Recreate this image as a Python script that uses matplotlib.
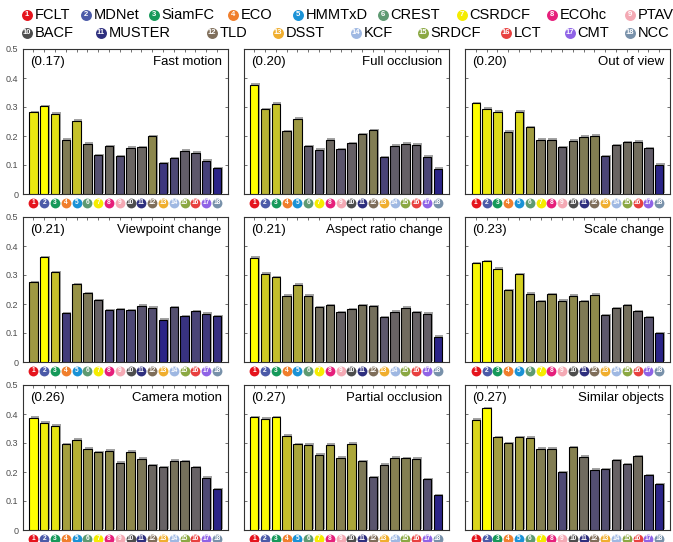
import matplotlib
matplotlib.use("Agg")
import matplotlib.pyplot as plt
import matplotlib.patheffects as pe
import matplotlib.transforms as mtransforms
from matplotlib.colors import LinearSegmentedColormap
import numpy as np

plt.rcParams['font.family'] = ['Liberation Sans', 'DejaVu Sans']

trackers = ['FCLT', 'MDNet', 'SiamFC', 'ECO', 'HMMTxD', 'CREST', 'CSRDCF', 'ECOhc', 'PTAV',
            'BACF', 'MUSTER', 'TLD', 'DSST', 'KCF', 'SRDCF', 'LCT', 'CMT', 'NCC']
tracker_colors = ['#e5141d', '#4b5aa8', '#16995a', '#f07f2d', '#1a92d6', '#5e9a72',
                  '#f5ec00', '#e61f7b', '#f4a9b4', '#4d4d4d', '#2e2f7e', '#7f6e5a',
                  '#f0ae2e', '#9fb8e2', '#8ba843', '#e8403f', '#8f63e6', '#7891aa']

attributes = ['Fast motion', 'Full occlusion', 'Out of view',
              'Viewpoint change', 'Aspect ratio change', 'Scale change',
              'Camera motion', 'Partial occlusion', 'Similar objects']
attr_scores = ['(0.17)', '(0.20)', '(0.20)', '(0.21)', '(0.21)', '(0.23)',
               '(0.26)', '(0.27)', '(0.27)']

fast_motion = [0.283, 0.302, 0.277, 0.187, 0.253, 0.173, 0.133, 0.165, 0.131,
               0.160, 0.161, 0.200, 0.107, 0.123, 0.149, 0.143, 0.115, 0.090]
full_occlusion = [0.377, 0.292, 0.311, 0.217, 0.260, 0.164, 0.153, 0.187, 0.155,
                  0.175, 0.207, 0.221, 0.126, 0.167, 0.174, 0.170, 0.129, 0.087]
out_of_view = [0.313, 0.294, 0.284, 0.215, 0.284, 0.230, 0.187, 0.187, 0.162,
               0.184, 0.197, 0.201, 0.131, 0.169, 0.178, 0.180, 0.159, 0.101]
viewpoint_change = [0.275, 0.362, 0.310, 0.168, 0.268, 0.238, 0.213, 0.178, 0.182,
                    0.179, 0.194, 0.187, 0.146, 0.190, 0.159, 0.176, 0.166, 0.157]
aspect_ratio_change = [0.360, 0.305, 0.292, 0.228, 0.267, 0.228, 0.190, 0.195, 0.172,
                       0.183, 0.195, 0.192, 0.154, 0.174, 0.187, 0.172, 0.166, 0.087]
scale_change = [0.340, 0.347, 0.322, 0.248, 0.303, 0.235, 0.210, 0.233, 0.211,
                0.229, 0.210, 0.232, 0.162, 0.185, 0.195, 0.176, 0.154, 0.100]
camera_motion = [0.387, 0.370, 0.360, 0.295, 0.311, 0.280, 0.269, 0.274, 0.232,
                 0.270, 0.246, 0.224, 0.217, 0.239, 0.237, 0.217, 0.180, 0.140]
partial_occlusion = [0.390, 0.384, 0.388, 0.325, 0.295, 0.294, 0.260, 0.294, 0.250,
                     0.297, 0.238, 0.183, 0.225, 0.250, 0.248, 0.246, 0.175, 0.120]
similar_objects = [0.380, 0.420, 0.320, 0.299, 0.320, 0.318, 0.280, 0.280, 0.200,
                   0.286, 0.253, 0.208, 0.210, 0.240, 0.226, 0.254, 0.189, 0.159]

panels = [fast_motion, full_occlusion, out_of_view,
          viewpoint_change, aspect_ratio_change, scale_change,
          camera_motion, partial_occlusion, similar_objects]

yticks = [0, 0.1, 0.2, 0.3, 0.4, 0.5]
ytick_labels = ['0', '0.1', '0.2', '0.3', '0.4', '0.5']

# blue -> gray -> yellow, like the original
cmap = LinearSegmentedColormap.from_list('bgy', [
    (0.0, (0.17, 0.14, 0.53)),
    (0.15, (0.30, 0.28, 0.46)),
    (0.32, (0.41, 0.39, 0.39)),
    (0.52, (0.55, 0.53, 0.30)),
    (0.76, (0.77, 0.75, 0.17)),
    (1.0, (1.0, 1.0, 0.0)),
])


def number_badge(ax, x, y, n, size, fs, transform):
    ax.scatter([x], [y], s=size, c=[tracker_colors[n - 1]], transform=transform,
               clip_on=False, zorder=5, linewidths=0)
    ax.text(x, y, str(n), transform=transform, ha='center', va='center',
            color='white', fontsize=fs, fontweight='bold', clip_on=False, zorder=6)


fig = plt.figure(figsize=(6.73, 5.42), dpi=100)

col_x = [22.7, 243.5, 465.0]
row_y = [194.0, 362.0, 530.0]
ax_w, ax_h = 205.0, 145.0
W, H = 673.0, 542.0

x = np.arange(1, 19)
for i, vals in enumerate(panels):
    r, c = divmod(i, 3)
    ax = fig.add_axes([col_x[c] / W, 1 - row_y[r] / H, ax_w / W, ax_h / H])
    v = np.array(vals)
    t = (v - v.min()) / (v.max() - v.min())
    bars = ax.bar(x, v, width=0.78, color=cmap(t), edgecolor='black', linewidth=0.8, zorder=3)
    for b in bars:
        b.set_path_effects([pe.SimplePatchShadow(offset=(1.0, 1.0), shadow_rgbFace='0.6', alpha=0.9),
                            pe.Normal()])
    ax.set_xlim(0, 19)
    ax.set_ylim(0, 0.5)
    ax.set_yticks(yticks)
    if c == 0:
        ax.set_yticklabels(ytick_labels)
    else:
        ax.set_yticklabels([])
    ax.set_xticks(x)
    ax.set_xticklabels([])
    ax.tick_params(direction='in', length=2.5, width=0.6, colors='0.35',
                   labelsize=6.5, labelcolor='0.3', top=True, right=True, bottom=False, pad=3)
    for s in ax.spines.values():
        s.set_linewidth(0.8)
        s.set_color('0.2')
    ax.text(0.035, 0.955, attr_scores[i], transform=ax.transAxes, ha='left', va='top', fontsize=9.5)
    ax.text(0.97, 0.955, attributes[i], transform=ax.transAxes, ha='right', va='top', fontsize=9.5)
    trans = mtransforms.blended_transform_factory(ax.transData, ax.transAxes)
    for k in x:
        number_badge(ax, k, -8.5 / ax_h, int(k), 50, 4.8, trans)

# legend across the top
leg = fig.add_axes([0, 0, 1, 1], facecolor='none')
leg.set_xlim(0, W)
leg.set_ylim(H, 0)
leg.axis('off')
leg_x = [27, 86, 154, 233, 298, 383, 462, 552, 630,
         27, 101, 212, 278, 356, 423, 506, 570, 630]
leg_y = [15] * 9 + [33] * 9
for k in range(18):
    number_badge(leg, leg_x[k], leg_y[k], k + 1, 62, 5.5, leg.transData)
    leg.text(leg_x[k] + 7.5, leg_y[k], trackers[k], ha='left', va='center', fontsize=10.5)

fig.savefig('out.png', dpi=100)
